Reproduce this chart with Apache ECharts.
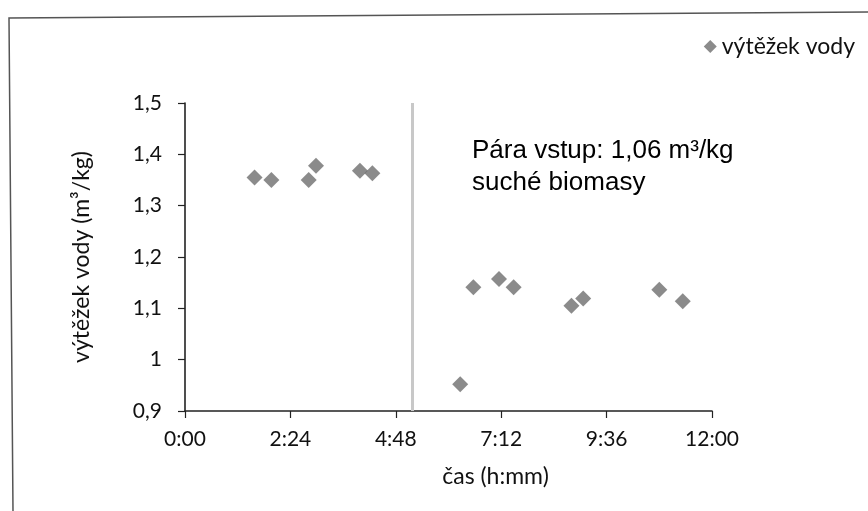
<!DOCTYPE html>
<html>
<head>
<meta charset="utf-8">
<script src="https://cdn.jsdelivr.net/npm/echarts@6/dist/echarts.min.js"></script>
<style>html,body{margin:0;padding:0;background:#fff}#c{width:868px;height:511px}</style>
</head>
<body>
<div id="c"></div>
<script>
// time in minutes since start (axis shown as h:mm)
var timeMinutes = [95, 118, 169, 179, 239, 256, 376, 394, 429, 449, 528, 544, 648, 680];
var waterYield  = [1.355, 1.350, 1.350, 1.378, 1.368, 1.363, 0.952, 1.141, 1.157, 1.141, 1.105, 1.119, 1.136, 1.114];
var seriesName = 'výtěžek vody';
var steamChangeMinute = 311;
var xTicks = ['0:00', '2:24', '4:48', '7:12', '9:36', '12:00'];
var annotationLines = ['Pára vstup: 1,06 m³/kg', 'suché biomasy'];

var points = timeMinutes.map(function (t, i) { return [t, waterYield[i]]; });
function fmtTime(v) {
  var h = Math.floor(v / 60), m = Math.round(v - h * 60);
  return h + ':' + (m < 10 ? '0' : '') + m;
}
var chart = echarts.init(document.getElementById('c'));
chart.setOption({
  animation: false,
  backgroundColor: '#fff',
  grid: { left: 185, right: 156, top: 103, bottom: 100 },
  legend: {
    data: [{ name: seriesName, icon: 'diamond' }],
    right: 8, top: 30, itemWidth: 13, itemHeight: 13,
    textStyle: { fontFamily: 'Lato', fontSize: 23, color: '#111' }
  },
  xAxis: {
    type: 'value', min: 0, max: 720, interval: 144,
    name: 'čas (h:mm)', nameLocation: 'middle', nameGap: 54,
    nameTextStyle: { fontFamily: 'Lato', fontSize: 23, color: '#111', padding: [0, 0, 0, 94] },
    axisLine: { show: true, lineStyle: { color: '#222', width: 1.6 } },
    axisTick: { show: true, inside: false, length: 7, lineStyle: { color: '#222', width: 1.2 } },
    splitLine: { show: false },
    axisLabel: { margin: 18, fontFamily: 'Lato', fontSize: 21, color: '#111',
      formatter: function (v) { return xTicks[Math.round(v / 144)] || fmtTime(v); } }
  },
  yAxis: {
    type: 'value', min: 0.9, max: 1.5, interval: 0.1,
    name: 'výtěžek vody (m³/kg)', nameLocation: 'middle', nameGap: 92, nameRotate: 90,
    nameTextStyle: { fontFamily: 'Lato', fontSize: 23, color: '#111' },
    axisLine: { show: true, lineStyle: { color: '#222', width: 1.6 } },
    axisTick: { show: true, inside: false, length: 7, lineStyle: { color: '#222', width: 1.2 } },
    splitLine: { show: false },
    axisLabel: { margin: 23, fontFamily: 'Lato', fontSize: 21, color: '#111',
      formatter: function (v) { return String(Math.round(v * 10) / 10).replace('.', ','); } }
  },
  series: [{
    name: seriesName, type: 'scatter', symbol: 'diamond', symbolSize: 16,
    itemStyle: { color: '#6e6e6e' },
    data: points,
    markLine: {
      silent: true, symbol: 'none', label: { show: false },
      lineStyle: { color: '#c8c8c8', width: 3, type: 'solid' },
      data: [{ xAxis: steamChangeMinute }]
    }
  }],
  graphic: [
    { type: 'polyline', shape: { points: [[13, 511], [9, 18], [868, 12]] },
      style: { stroke: '#555', lineWidth: 1.5, fill: null }, silent: true },
    { type: 'text', left: 472, top: 135,
      style: { text: annotationLines.join('\n'), font: '26px "Liberation Sans"', fill: '#000', lineHeight: 32 } }
  ]
});
</script>
</body>
</html>
